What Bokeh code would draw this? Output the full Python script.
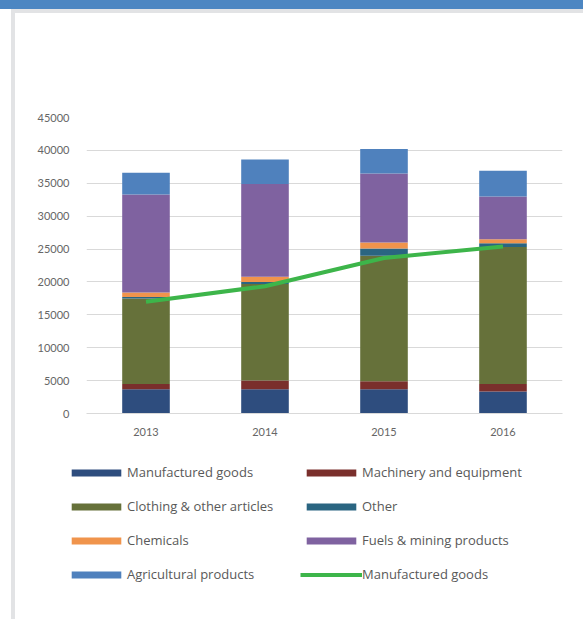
from bokeh.plotting import figure
from bokeh.models import ColumnDataSource, Legend, LegendItem, FactorRange, Div
from bokeh.layouts import column, row
from bokeh.embed import file_html
from bokeh.resources import INLINE

years = ["2013", "2014", "2015", "2016"]
manufactured = [3700, 3700, 3700, 3350]
machinery = [800, 1300, 1200, 1150]
clothing = [13000, 14700, 19100, 20800]
other = [200, 300, 1100, 600]
chemicals = [700, 800, 900, 600]
fuels = [14900, 14100, 10500, 6500]
agricultural = [3300, 3700, 3700, 3900]
manufactured_line = [17000, 19350, 23650, 25400]

series_keys = ["manufactured", "machinery", "clothing", "other", "chemicals", "fuels", "agricultural"]
colors = ["#2E4D7E", "#7A2F2C", "#66713A", "#2A6581", "#F0944C", "#7F62A0", "#4F81BD"]
line_color = "#3DB54A"
legend_labels = ["Manufactured goods", "Machinery and equipment", "Clothing & other articles",
                 "Other", "Chemicals", "Fuels & mining products", "Agricultural products",
                 "Manufactured goods"]
y_ticks = [0, 5000, 10000, 15000, 20000, 25000, 30000, 35000, 40000, 45000]

src = ColumnDataSource(dict(years=years, manufactured=manufactured, machinery=machinery,
                            clothing=clothing, other=other, chemicals=chemicals, fuels=fuels,
                            agricultural=agricultural, line=manufactured_line))

font = "Lato"

# ---- main chart ----
p = figure(x_range=FactorRange(*years, range_padding=0), y_range=(0, 45000),
           width=568, height=432, output_backend="svg", toolbar_location=None,
           min_border_left=71, min_border_right=21, min_border_top=104, min_border_bottom=32)
p.frame_align = False

p.vbar_stack(series_keys, x="years", width=0.4, color=colors, source=src, line_color=None)
p.line(x="years", y="line", source=src, line_color=line_color, line_width=4)

p.outline_line_color = None
p.xgrid.grid_line_color = None
p.ygrid.grid_line_color = "#D9D9D9"
p.yaxis.ticker = y_ticks
p.yaxis.axis_line_color = None
p.yaxis.major_tick_line_color = None
p.yaxis.minor_tick_line_color = None
p.yaxis.major_label_standoff = 11
p.xaxis.axis_line_color = "#D9D9D9"
p.xaxis.major_tick_line_color = None
p.xaxis.minor_tick_line_color = None
p.xaxis.major_label_standoff = 8
for ax in (p.xaxis[0], p.yaxis[0]):
    ax.major_label_text_font = font
    ax.major_label_text_font_size = "11px"
    ax.major_label_text_color = "#666666"

# ---- legend panel (separate canvas so it is not clipped) ----
lg = figure(width=568, height=174, output_backend="svg", toolbar_location=None,
            x_range=(0, 1), y_range=(0, 1), min_border=0, min_border_left=0,
            min_border_right=0, min_border_top=0, min_border_bottom=0)
lg.frame_align = False
lg.axis.visible = False
lg.grid.visible = False
lg.outline_line_color = None

keys_r = []
for c in colors:
    keys_r.append(lg.vbar(x=[0], top=[0], bottom=[0], width=0.0, color=c, line_color=None))
keys_r.append(lg.line(x=[0], y=[0], line_color=line_color, line_width=4))

order = [0, 1, 2, 3, 4, 5, 6, 7]
col_major = order[0::2] + order[1::2]
items = [LegendItem(label=legend_labels[i], renderers=[keys_r[i]]) for i in col_major]
legend = Legend(items=items, ncols=2, location=(50, 36),
                glyph_width=62, glyph_height=9, label_standoff=0, spacing=16,
                label_text_font="Open Sans", label_text_font_size="13px",
                label_text_color="#595959",
                label_width=157, border_line_color=None, background_fill_alpha=0,
                padding=0, margin=0)
lg.add_layout(legend, "center")

blue_band = Div(width=583, height=9, margin=0, styles={"background-color": "#4C86C2"})
gap = Div(width=11, height=610, margin=0)
frame_top = Div(width=572, height=4, margin=0, styles={"background-color": "#E2E3E5"})
frame_left = Div(width=4, height=606, margin=0, styles={"background-color": "#E2E3E5"})

layout = column(blue_band,
                row(gap, column(frame_top, row(frame_left, column(p, lg, spacing=0), spacing=0),
                                spacing=0), spacing=0),
                spacing=0)

open("out.html", "w").write(file_html(layout, INLINE))
